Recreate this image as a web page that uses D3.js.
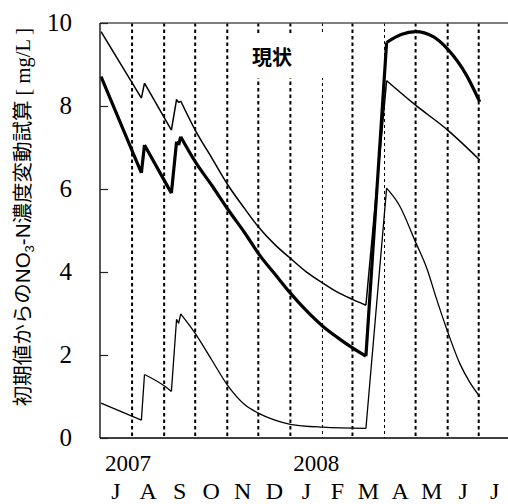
<!DOCTYPE html>
<html>
<head>
<meta charset="UTF-8">
<script src="https://d3js.org/d3.v7.min.js"></script>
</head>
<body style="margin:0">
<script>
// month boundaries (grid lines) and labels
const monthStarts = ["2007-07-01", "2007-08-01", "2007-09-01", "2007-10-01", "2007-11-01", "2007-12-01",
  "2008-01-01", "2008-02-01", "2008-03-01", "2008-04-01", "2008-05-01", "2008-06-01", "2008-07-01", "2008-08-01"];
const monthLabels = ["J", "A", "S", "O", "N", "D", "J", "F", "M", "A", "M", "J", "J"];
const thinGrid = ["2008-02-01", "2008-04-01"];
const yearLabels = ["2007", "2008"];
const yearDates = ["2007-07-28", "2008-01-26"];
const yTicks = [0, 2, 4, 6, 8, 10];

// dates where lines have a sharp corner
const cornerDates = ["2007-08-10", "2007-08-13", "2007-09-08", "2007-09-13", "2007-09-15", "2007-09-17",
  "2008-03-14", "2008-04-03"];

// upper thin line
const upperDates = ["2007-07-02", "2007-08-10", "2007-08-13", "2007-09-08", "2007-09-13", "2007-09-15", "2007-09-17",
  "2007-10-01", "2007-10-17", "2007-11-01", "2007-11-18", "2007-12-01", "2007-12-17", "2008-01-01", "2008-01-16",
  "2008-02-01", "2008-02-15", "2008-03-01", "2008-03-14", "2008-04-03", "2008-05-01", "2008-06-01", "2008-07-02"];
const upperValues = [9.79, 8.19, 8.55, 7.42, 8.16, 8.08, 8.12,
  7.42, 6.75, 6.12, 5.52, 5.09, 4.66, 4.33, 4.01,
  3.74, 3.52, 3.34, 3.20, 8.61, 8.02, 7.42, 6.70];

// thick line
const thickDates = ["2007-07-02", "2007-08-10", "2007-08-13", "2007-09-08", "2007-09-13", "2007-09-15", "2007-09-17",
  "2007-10-01", "2007-10-17", "2007-11-01", "2007-11-18", "2007-12-01", "2007-12-17", "2008-01-01", "2008-01-16",
  "2008-02-01", "2008-02-15", "2008-03-01", "2008-03-14", "2008-04-03", "2008-04-17", "2008-05-01", "2008-05-18",
  "2008-06-01", "2008-06-19", "2008-07-02"];
const thickValues = [8.71, 6.39, 7.06, 5.90, 7.14, 7.06, 7.26,
  6.66, 6.09, 5.53, 4.94, 4.45, 3.95, 3.49, 3.08,
  2.70, 2.43, 2.17, 1.97, 9.53, 9.72, 9.79, 9.67,
  9.37, 8.75, 8.10];

// lower thin line
const lowerDates = ["2007-07-02", "2007-08-10", "2007-08-13", "2007-09-02", "2007-09-08", "2007-09-13", "2007-09-15",
  "2007-09-17", "2007-10-01", "2007-10-17", "2007-11-01", "2007-11-18", "2007-12-01", "2007-12-17", "2008-01-01",
  "2008-02-01", "2008-03-14", "2008-04-03", "2008-04-15", "2008-05-01", "2008-05-12", "2008-05-21", "2008-06-01",
  "2008-06-13", "2008-06-22", "2008-07-02"];
const lowerValues = [0.84, 0.43, 1.53, 1.24, 1.12, 2.86, 2.76,
  2.99, 2.52, 1.88, 1.28, 0.80, 0.60, 0.43, 0.33,
  0.26, 0.23, 6.02, 5.62, 4.72, 4.08, 3.37, 2.56,
  1.78, 1.36, 1.00];

const W = 508, H = 504;
const margin = { left: 100, top: 23, bottom: 66 };
const parse = d3.utcParse("%Y-%m-%d");
const serif = "\"Liberation Serif\"";
const sans = "\"Liberation Sans\", \"Noto Sans CJK JP\"";
const baseSize = 28; // serif labels are drawn at 28px and scaled down

const svg = d3.select("body").append("svg")
  .attr("width", W)
  .attr("height", H);

const x = d3.scaleUtc()
  .domain([parse("2007-07-01"), parse("2008-07-01")])
  .range([margin.left, 478.7]);

const y = d3.scaleLinear()
  .domain([0, 10])
  .range([H - margin.bottom, margin.top]);

// dotted month lines
svg.append("g")
  .selectAll("line")
  .data(monthStarts.slice(1, 13))
  .enter()
  .append("line")
  .attr("x1", d => x(parse(d)))
  .attr("x2", d => x(parse(d)))
  .attr("y1", y(10))
  .attr("y2", y(0))
  .attr("stroke", "#000")
  .attr("stroke-width", d => thinGrid.includes(d) ? 1 : 2)
  .attr("stroke-dasharray", d => thinGrid.includes(d) ? "3,3" : "3.5,3");

// label box
svg.append("rect")
  .attr("x", 238)
  .attr("y", 34)
  .attr("width", 90)
  .attr("height", 44)
  .attr("fill", "#fff");

svg.append("text")
  .attr("x", 252)
  .attr("y", 65)
  .style("font-family", "\"Noto Sans CJK JP\"")
  .style("font-weight", "bold")
  .style("font-size", "20px")
  .text("現状");

// series
function drawSeries(dates, values, width) {
  const pts = dates.map((d, i) => ({ date: parse(d), v: values[i], corner: cornerDates.includes(d) }));
  const line = d3.line()
    .x(d => x(d.date))
    .y(d => y(d.v))
    .curve(d3.curveMonotoneX);
  // split into smooth pieces at the corners
  const pieces = [];
  let cur = [pts[0]];
  for (let i = 1; i < pts.length; i++) {
    cur.push(pts[i]);
    if (pts[i].corner) {
      pieces.push(cur);
      cur = [pts[i]];
    }
  }
  if (cur.length > 1) pieces.push(cur);
  const d = pieces.map(p => line(p)).join("");
  svg.append("path")
    .attr("d", d)
    .attr("fill", "none")
    .attr("stroke", "#000")
    .attr("stroke-width", width)
    .attr("stroke-linejoin", "round");
}

drawSeries(lowerDates, lowerValues, 1.3);
drawSeries(upperDates, upperValues, 1.5);
drawSeries(thickDates, thickValues, 3.2);

// frame
svg.append("line")
  .attr("x1", margin.left).attr("x2", W)
  .attr("y1", y(10)).attr("y2", y(10))
  .attr("stroke", "#555").attr("stroke-width", 1.5);
svg.append("line")
  .attr("x1", margin.left).attr("x2", margin.left)
  .attr("y1", y(10)).attr("y2", y(0))
  .attr("stroke", "#222").attr("stroke-width", 1.5);
svg.append("line")
  .attr("x1", margin.left).attr("x2", W)
  .attr("y1", y(0)).attr("y2", y(0))
  .attr("stroke", "#000").attr("stroke-width", 1.5);

// y axis: inward ticks only
const yAxis = d3.axisLeft(y)
  .tickValues(yTicks)
  .tickSizeInner(-8)
  .tickSizeOuter(0)
  .tickFormat("");

const gy = svg.append("g")
  .attr("transform", "translate(" + margin.left + ",0)")
  .call(yAxis);
gy.select(".domain").remove();
gy.selectAll("line").attr("stroke", "#222").attr("stroke-width", 1.2);

// y tick labels
svg.append("g")
  .selectAll("text")
  .data(yTicks)
  .enter()
  .append("text")
  .attr("transform", d => "translate(72," + y(d) + ") scale(" + (25 / baseSize) + ")")
  .attr("dy", "0.33em")
  .attr("text-anchor", "end")
  .style("font-family", serif)
  .style("font-size", baseSize + "px")
  .text(d => d);

// month letters
svg.append("g")
  .selectAll("text")
  .data(monthLabels)
  .enter()
  .append("text")
  .attr("transform", (d, i) => "translate(" + ((x(parse(monthStarts[i])) + x(parse(monthStarts[i + 1]))) / 2) +
    ",499) scale(" + (24 / baseSize) + ")")
  .attr("text-anchor", "middle")
  .style("font-family", serif)
  .style("font-size", baseSize + "px")
  .text(d => d);

// years
svg.append("g")
  .selectAll("text")
  .data(yearLabels)
  .enter()
  .append("text")
  .attr("transform", (d, i) => "translate(" + x(parse(yearDates[i])) + ",471) scale(" + (23 / baseSize) + ")")
  .attr("text-anchor", "middle")
  .style("font-family", serif)
  .style("font-size", baseSize + "px")
  .text(d => d);

// y title
const yt = svg.append("text")
  .attr("transform", "translate(30,217) rotate(-90)")
  .attr("text-anchor", "middle")
  .style("font-size", "20.5px");
yt.append("tspan")
  .style("font-family", sans)
  .text("初期値からのNO");
yt.append("tspan")
  .attr("dy", 4)
  .style("font-family", "\"Liberation Sans\"")
  .style("font-size", "13px")
  .text("3");
yt.append("tspan")
  .attr("dy", -4)
  .style("font-family", sans)
  .text("-N濃度変動試算");
yt.append("tspan")
  .style("font-family", serif)
  .text(" [ mg/L ]");
</script>
</body>
</html>
